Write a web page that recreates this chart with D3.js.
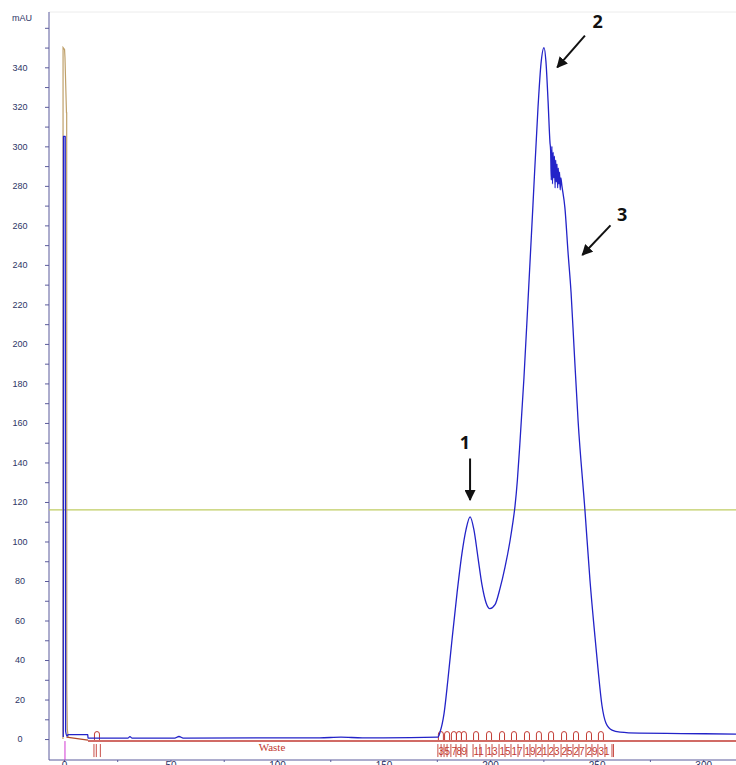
<!DOCTYPE html>
<html>
<head>
<meta charset="utf-8">
<script src="https://cdn.jsdelivr.net/npm/d3@7"></script>
<style>
  body { margin: 0; background: #fff; }
  svg { display: block; }
</style>
</head>
<body>
<div id="chart"></div>
<script>
// UV 280 trace (mL, mAU)
const uvX = [-0.3, -0.2, 0.6, 0.8, 1.5, 1.9, 11.2, 11.3, 30, 31, 32, 52, 54, 56, 120, 130, 140, 150, 175.5,
    176.5, 178.4, 180.2, 182.1, 184.5, 186.8, 188.7, 190.6, 192.4, 194.3, 196.2, 198.1, 199.9, 202.3, 204.6,
    207, 209.3, 210.6, 211.7, 212.8, 214, 215.9, 217.8, 220.1, 222.5, 223.9, 225.3, 226.2, 227.2, 228.1,
    228.4, 228.7, 229.0, 229.3, 229.6, 229.9, 230.2, 230.5, 230.8, 231.1, 231.4, 231.7, 232.0, 232.3, 232.6, 232.9, 233.2, 233.7,
    235.1, 236.6, 238, 239.4, 241.3, 244.5, 246.9, 249.2, 250.6, 252.5, 254.4, 257.2, 261, 270, 290, 315.4];
const uvY = [1, 305, 305, 4, 1.5, 2.2, 2.2, 0.5, 0.5, 1.2, 0.5, 0.5, 1.3, 0.5, 0.6, 1.0, 0.6, 0.6, 1,
    3.5, 13, 30, 50, 74, 94, 106, 112.5, 106, 92, 78, 69, 66, 68, 76,
    87, 100, 109, 118, 131, 150, 183, 222, 270, 320, 342, 350, 343, 323, 302,
    298, 283, 300, 281, 297, 284, 295, 279, 293, 282, 291, 279, 289, 281, 287, 278, 284, 280,
    269, 246, 226, 198, 161, 116, 80, 52, 36, 17, 8, 4.5, 3.5, 3, 2.8, 2.5];

// second detector trace (tan)
const tanX = [-0.45, -0.4, 0.3, 0.5, 1.2, 1.3, 1.35, 1.6, 2];
const tanY = [0, 350, 349, 345, 317, 317, 25, 5, 1];

// gradient trace (brown) before the fraction baseline
const brownX = [1.2, 11.3];
const brownY = [1, -0.5];

// fraction collector
const fracNum = [1, 2, 3, 4, 5, 6, 7, 8, 9, 10, 11, 12, 13, 14, 15, 16, 17, 18, 19, 20, 21, 22, 23, 24, 25, 26, 27, 28, 29, 30, 31, 32];
const fracStart = [14.1, 15.2, 175.5, 177, 178.4, 179.8, 181.6, 184, 186.3, 189.1, 192, 195.2, 198.1, 200.9, 204.2, 207,
    209.8, 213.1, 215.9, 218.7, 221.5, 224.4, 227.2, 230, 233.3, 236.1, 238.9, 241.7, 245, 247.8, 250.6, 253.9];
const fracEnd = [17.1, 257.2];
const fracLabels = [3, 5, 7, 8, 9, 11, 13, 15, 17, 19, 21, 23, 25, 27, 29, 31];
const wasteLabel = "Waste";

const yTicks = d3.range(0, 361, 10);
const yLabels = d3.range(0, 341, 20);
const xTicks = d3.range(0, 301, 25);
const refLevel = 116;

// annotations: label, text position, arrow from, arrow to (mL, mAU)
const notes = [
    { t: "1", tx: 188.2, ty: 147, x1: 190.6, y1: 142, x2: 190.6, y2: 121 },
    { t: "2", tx: 250.5, ty: 360, x1: 244.5, y1: 356, x2: 231.5, y2: 340 },
    { t: "3", tx: 262, ty: 262, x1: 256.5, y1: 260, x2: 243.3, y2: 245 }
];

const W = 736, H = 765;
const x = d3.scaleLinear().domain([-7, 315.4]).range([49, 736]);
const y = d3.scaleLinear().domain([-10.6, 368]).range([760, 12]);

const svg = d3.select("#chart").append("svg")
    .attr("width", W)
    .attr("height", H)
    .style("font-family", "Liberation Sans, Arial, sans-serif");

// faint top border
svg.append("line")
    .attr("x1", 49).attr("x2", W).attr("y1", 12).attr("y2", 12)
    .attr("stroke", "#ececec");

const axisCol = "#5b5b9c", labCol = "#2d3566";

// y axis
const yAxis = svg.append("g")
    .attr("transform", "translate(49,0)")
    .call(d3.axisLeft(y).tickValues(yTicks).tickSize(4)
        .tickFormat(d => yLabels.includes(d) ? d : ""));
yAxis.select(".domain").attr("d", "M0," + y(368) + "V" + y(-10.6)).attr("stroke", axisCol);
yAxis.selectAll(".tick line").attr("stroke", axisCol);
yAxis.selectAll(".tick text")
    .attr("x", -29).attr("text-anchor", "middle")
    .attr("fill", labCol).style("font-size", "9px");
svg.append("text").attr("x", 22).attr("y", 21)
    .attr("text-anchor", "middle").attr("fill", labCol)
    .style("font-size", "9px").text("mAU");

// x axis (labels sit at the bottom edge, mostly cut off as in the source)
const xAxis = svg.append("g")
    .attr("transform", "translate(0,760)")
    .call(d3.axisBottom(x).tickValues(xTicks).tickSize(2)
        .tickFormat(d => d % 50 === 0 ? d : ""));
xAxis.select(".domain").attr("d", "M49,0H" + W).attr("stroke", axisCol);
xAxis.selectAll(".tick line").attr("stroke", axisCol);
xAxis.selectAll(".tick text").attr("y", 2)
    .attr("fill", labCol).style("font-size", "10px");

// reference level
svg.append("line")
    .attr("x1", x(-7)).attr("x2", W)
    .attr("y1", y(refLevel)).attr("y2", y(refLevel))
    .attr("stroke", "#bfcd62").attr("stroke-width", 1.2);

// fractions
const fracCol = "#c23a32";
const fy = y(0) + 2;
const fg = svg.append("g");
fg.append("line")
    .attr("x1", x(11.3)).attr("x2", W).attr("y1", fy).attr("y2", fy)
    .attr("stroke", fracCol).attr("stroke-width", 1.4);
fg.selectAll(".fl").data(fracStart.concat(fracEnd, [fracEnd[1] + 0.7])).enter()
    .append("line")
    .attr("x1", d => x(d)).attr("x2", d => x(d))
    .attr("y1", fy + 3).attr("y2", fy + 16)
    .attr("stroke", fracCol).attr("stroke-width", 0.9);
fg.selectAll(".arc").data(fracNum.filter(n => n <= 1 || fracLabels.includes(n))).enter()
    .append("path")
    .attr("d", n => {
        let x0 = x(fracStart[fracNum.indexOf(n)]) + 0.5;
        return "M" + x0 + "," + (fy - 1) + "V" + (fy - 7) +
            "A2.5,2.5 0 0 1 " + (x0 + 5) + "," + (fy - 7) + "V" + (fy - 1);
    })
    .attr("fill", "none").attr("stroke", fracCol).attr("stroke-width", 1);
fg.selectAll(".ft").data(fracLabels).enter()
    .append("text")
    .attr("x", n => x(fracStart[fracNum.indexOf(n)]) + 0.5)
    .attr("y", fy + 14)
    .attr("fill", fracCol)
    .style("font-size", "10px")
    .style("font-family", "Liberation Sans Narrow, Liberation Sans, sans-serif")
    .text(d => d);
fg.append("text")
    .attr("x", 272).attr("y", fy + 10)
    .attr("text-anchor", "middle").attr("fill", fracCol)
    .style("font-family", "Liberation Serif, serif").style("font-size", "11px")
    .text(wasteLabel);

// injection mark
svg.append("line")
    .attr("x1", x(0.5)).attr("x2", x(0.5)).attr("y1", fy).attr("y2", 760)
    .attr("stroke", "#d23ad2").attr("stroke-width", 1);

const line = d3.line().x(d => x(d[0])).y(d => y(d[1]));
const smooth = d3.line().curve(d3.curveMonotoneX).x(d => x(d[0])).y(d => y(d[1]));
const zip = (a, b) => a.map((v, i) => [v, b[i]]);

svg.append("path").datum(zip(brownX, brownY))
    .attr("d", line).attr("fill", "none")
    .attr("stroke", "#b0482a").attr("stroke-width", 1.2);
svg.append("path").datum(zip(tanX, tanY))
    .attr("d", line).attr("fill", "none")
    .attr("stroke", "#bfa06a").attr("stroke-width", 1.2);
svg.append("path").datum(zip(uvX, uvY))
    .attr("d", smooth).attr("fill", "none")
    .attr("stroke", "#2323c8").attr("stroke-width", 1.3)
    .attr("stroke-linejoin", "round");

// annotation arrows
svg.append("defs").append("marker")
    .attr("id", "ah").attr("viewBox", "0 0 10 10")
    .attr("refX", 9).attr("refY", 5)
    .attr("markerWidth", 5.5).attr("markerHeight", 5.5)
    .attr("markerUnits", "strokeWidth")
    .attr("orient", "auto")
    .append("path").attr("d", "M0,0L10,5L0,10Z").attr("fill", "#111");

const ng = svg.selectAll(".note").data(notes).enter().append("g");
ng.append("line")
    .attr("x1", d => x(d.x1)).attr("y1", d => y(d.y1))
    .attr("x2", d => x(d.x2)).attr("y2", d => y(d.y2))
    .attr("stroke", "#111").attr("stroke-width", 2)
    .attr("marker-end", "url(#ah)");
ng.append("text")
    .attr("x", d => x(d.tx)).attr("y", d => y(d.ty))
    .attr("text-anchor", "middle")
    .style("font-size", "18px").style("font-weight", "bold")
    .style("font-family", "Open Sans, Liberation Sans, sans-serif")
    .attr("fill", "#111")
    .text(d => d.t);
</script>
</body>
</html>
